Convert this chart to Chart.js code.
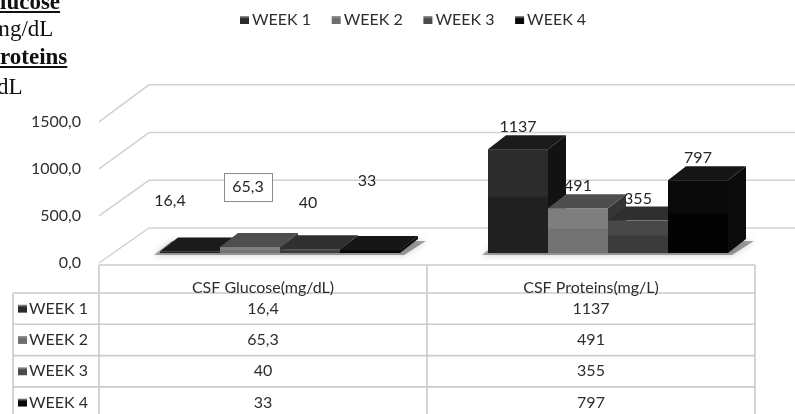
<!DOCTYPE html>
<html>
<head>
<meta charset="utf-8">
<script src="https://cdn.jsdelivr.net/npm/chart.js@4.4.1/dist/chart.umd.min.js"></script>
<style>
  html, body { margin: 0; padding: 0; background: #fff; }
  #wrap { position: relative; width: 795px; height: 414px; overflow: hidden; }
  #chart { position: absolute; left: 0; top: 0; }
  .note { position: absolute; font-family: "Liberation Serif", serif; font-size: 23px; line-height: 28px; color: #111; white-space: nowrap; }
  .note.b { font-weight: bold; text-decoration: underline; }
</style>
</head>
<body>
<div id="wrap">
  <canvas id="chart" width="795" height="414"></canvas>
  <div class="note b" id="n1" style="top:-12px">Glucose</div>
  <div class="note" id="n2" style="top:15px">mg/dL</div>
  <div class="note b" id="n3" style="top:43px">Proteins</div>
  <div class="note" id="n4" style="top:73px">mg/dL</div>
</div>
<script>
// data
const categories = ['CSF Glucose(mg/dL)', 'CSF Proteins(mg/L)'];
const seriesNames = ['WEEK 1', 'WEEK 2', 'WEEK 3', 'WEEK 4'];
const week1 = [16.4, 1137];
const week2 = [65.3, 491];
const week3 = [40, 355];
const week4 = [33, 797];
const yTicks = [0, 500, 1000, 1500];

// colours for each week: front (top/bottom of gradient), top face, side face
const weekColors = [
    { f1: '#2c2c2c', f2: '#202020', top: '#1b1b1b', side: '#121212', key: '#2a2a2a' },
    { f1: '#7e7e7e', f2: '#727272', top: '#4e4e4e', side: '#363636', key: '#6e6e6e' },
    { f1: '#484848', f2: '#3b3b3b', top: '#2f2f2f', side: '#242424', key: '#4a4a4a' },
    { f1: '#0a0a0a', f2: '#030303', top: '#161616', side: '#0c0c0c', key: '#080808' }
];

// cut off notes on the left edge, like the source picture
function textWidth(id, str) {
    const el = document.getElementById(id);
    const c = document.createElement('canvas').getContext('2d');
    const cs = getComputedStyle(el);
    c.font = cs.fontWeight + ' ' + cs.fontSize + ' ' + cs.fontFamily;
    return c.measureText(str).width;
}
document.getElementById('n1').style.left = -textWidth('n1', 'G') + 'px';
document.getElementById('n2').style.left = '-8px';
document.getElementById('n3').style.left = -textWidth('n3', 'P') + 'px';
document.getElementById('n4').style.left = -(textWidth('n4', 'mg/') + 3) + 'px';

const fmtAxis = v => v.toFixed(1).replace('.', ',');
const fmtVal = v => String(v).replace('.', ',');

const FONT = 'Lato, "Liberation Sans", sans-serif';
const DEPTH = { dx: 18, dy: -14 };      // bar depth
const FRONT = { dx: -17, dy: 10 };      // floor front edge vs bar plane
const BACK = { dx: 33, dy: -25 };       // back wall vs bar plane

const threeD = {
    id: 'threeD',
    beforeDatasetsDraw(chart, args, opts) {
        const ctx = chart.ctx;
        const y = chart.scales.y;
        const area = chart.chartArea;
        const base = y.getPixelForValue(0);
        const left = area.left + FRONT.dx;
        const backLeft = area.left + BACK.dx;

        // walls / grid in perspective
        ctx.save();
        ctx.strokeStyle = '#d2d2d2';
        ctx.lineWidth = 1.5;
        yTicks.forEach(v => {
            const py = y.getPixelForValue(v);
            const fy = base + FRONT.dy + (py - base) * 1.03;
            const by = base + BACK.dy + (py - base) * 1.045;
            ctx.beginPath();
            ctx.moveTo(left, fy);
            ctx.lineTo(backLeft, by);
            ctx.lineTo(chart.width, by);
            ctx.stroke();
        });
        ctx.restore();

        // shadows under each group
        const metas = chart.data.datasets.map((d, i) => chart.getDatasetMeta(i));
        categories.forEach((c, ci) => {
            const first = metas[0].data[ci].getProps(['x', 'width'], true);
            const last = metas[metas.length - 1].data[ci].getProps(['x', 'width'], true);
            const x0 = first.x - first.width / 2, x1 = last.x + last.width / 2;
            ctx.save();
            ctx.shadowColor = 'rgba(0,0,0,0.55)';
            ctx.shadowBlur = 7;
            ctx.fillStyle = 'rgba(0,0,0,0.35)';
            ctx.beginPath();
            ctx.moveTo(x0 - 6, base + 2);
            ctx.lineTo(x1 + 4, base + 2);
            ctx.lineTo(x1 + DEPTH.dx + 8, base + DEPTH.dy + 2);
            ctx.lineTo(x0 + DEPTH.dx - 6, base + DEPTH.dy + 2);
            ctx.closePath();
            ctx.fill();
            ctx.restore();
        });

        // bars, left to right so each front hides the previous side
        categories.forEach((c, ci) => {
            metas.forEach((meta, di) => {
                const b = meta.data[ci].getProps(['x', 'y', 'base', 'width'], true);
                const col = weekColors[di];
                const x0 = b.x - b.width / 2, x1 = b.x + b.width / 2;
                const top = Math.min(b.y, b.base - 1.5), bot = b.base;
                ctx.save();
                ctx.fillStyle = col.side;
                ctx.beginPath();
                ctx.moveTo(x1, top); ctx.lineTo(x1 + DEPTH.dx, top + DEPTH.dy);
                ctx.lineTo(x1 + DEPTH.dx, bot + DEPTH.dy); ctx.lineTo(x1, bot);
                ctx.closePath(); ctx.fill();
                ctx.fillStyle = col.top;
                ctx.beginPath();
                ctx.moveTo(x0, top); ctx.lineTo(x0 + DEPTH.dx, top + DEPTH.dy);
                ctx.lineTo(x1 + DEPTH.dx, top + DEPTH.dy); ctx.lineTo(x1, top);
                ctx.closePath(); ctx.fill();
                const g = ctx.createLinearGradient(0, top, 0, bot);
                g.addColorStop(0, col.f1);
                g.addColorStop(0.45, col.f1);
                g.addColorStop(0.47, col.f2);
                g.addColorStop(1, col.f2);
                ctx.fillStyle = g;
                ctx.fillRect(x0, top, x1 - x0, bot - top);
                ctx.restore();
            });
        });
        return false;
    },
    afterDraw(chart, args, opts) {
        const ctx = chart.ctx;
        const x = chart.scales.x;
        const y = chart.scales.y;
        const base = y.getPixelForValue(0);
        const metas = chart.data.datasets.map((d, i) => chart.getDatasetMeta(i));
        ctx.save();

        // y labels on the front edge
        ctx.font = '16px ' + FONT;
        ctx.fillStyle = '#2e2e2e';
        ctx.textAlign = 'right';
        ctx.textBaseline = 'middle';
        yTicks.forEach(v => {
            const py = y.getPixelForValue(v);
            ctx.fillText(fmtAxis(v), 81, base + FRONT.dy + (py - base) * 1.03);
        });

        // data labels
        ctx.font = '16px ' + FONT;
        ctx.textAlign = 'center';
        metas.forEach((meta, di) => {
            meta.data.forEach((el, ci) => {
                const b = el.getProps(['x', 'y', 'base'], true);
                const top = Math.min(b.y, b.base - 1.5);
                const n = (opts.nudge[ci] && opts.nudge[ci][di]) || [0, 0];
                const lx = b.x + n[0], ly = top + DEPTH.dy - 8 + n[1];
                const txt = fmtVal(chart.data.datasets[di].data[ci]);
                if (opts.boxed[ci] === di) {
                    ctx.fillStyle = '#fff';
                    ctx.strokeStyle = '#8a8a8a';
                    ctx.lineWidth = 1;
                    ctx.fillRect(lx - 24, ly - 14, 48, 28);
                    ctx.strokeRect(lx - 24 + 0.5, ly - 14 + 0.5, 48, 28);
                }
                ctx.fillStyle = '#262626';
                ctx.fillText(txt, lx, ly);
            });
        });

        // data table under the plot
        const half = (x.getPixelForValue(1) - x.getPixelForValue(0)) / 2;
        const tLeft = x.getPixelForValue(0) - half + FRONT.dx;
        const tRight = x.getPixelForValue(categories.length - 1) + half + FRONT.dx;
        const tTop = base + 12;
        const headH = 28, rowH = 31.3;
        const keyLeft = 13;
        ctx.strokeStyle = '#cbcbcb';
        ctx.lineWidth = 1.6;
        ctx.beginPath();
        ctx.moveTo(tLeft, tTop); ctx.lineTo(tRight, tTop);
        for (let r = 0; r <= seriesNames.length; r++) {
            const ry = tTop + headH + r * rowH;
            ctx.moveTo(keyLeft, ry); ctx.lineTo(tRight, ry);
        }
        const tBottom = chart.height + 5;
        ctx.moveTo(tLeft, tTop); ctx.lineTo(tLeft, tBottom);
        ctx.moveTo(tRight, tTop); ctx.lineTo(tRight, tBottom);
        ctx.moveTo(keyLeft, tTop + headH); ctx.lineTo(keyLeft, tBottom);
        for (let c = 1; c < categories.length; c++) {
            const cx = x.getPixelForValue(c) - half + FRONT.dx;
            ctx.moveTo(cx, tTop); ctx.lineTo(cx, tBottom);
        }
        ctx.stroke();

        ctx.font = '16px ' + FONT;
        ctx.fillStyle = '#2e2e2e';
        ctx.textAlign = 'center';
        categories.forEach((c, ci) => {
            const cx = x.getPixelForValue(ci) + FRONT.dx;
            ctx.fillText(c, cx, tTop + 23);
            seriesNames.forEach((s, di) => {
                ctx.fillText(fmtVal(chart.data.datasets[di].data[ci]), cx, tTop + headH + di * rowH + rowH / 2);
            });
        });
        ctx.textAlign = 'left';
        seriesNames.forEach((s, di) => {
            const ry = tTop + headH + di * rowH + rowH / 2;
            drawKey(ctx, 18, ry, weekColors[di].key);
            ctx.fillStyle = '#2e2e2e';
            ctx.fillText(s, 29, ry);
        });

        // legend on top
        ctx.font = '16px ' + FONT;
        seriesNames.forEach((s, di) => {
            const lx = 240 + di * 91.7;
            drawKey(ctx, lx, 20, weekColors[di].key);
            ctx.fillStyle = '#2e2e2e';
            ctx.fillText(s, lx + 12, 20);
        });
        ctx.restore();
    }
};

function drawKey(ctx, x0, cy, color) {
    const g = ctx.createLinearGradient(0, cy - 4, 0, cy + 4);
    g.addColorStop(0, '#9a9a9a');
    g.addColorStop(0.35, color);
    g.addColorStop(1, color);
    ctx.fillStyle = g;
    ctx.fillRect(x0, cy - 4, 9, 8);
}

new Chart(document.getElementById('chart'), {
    type: 'bar',
    data: {
        labels: categories,
        datasets: [week1, week2, week3, week4].map((vals, i) => ({
            label: seriesNames[i],
            data: vals,
            backgroundColor: weekColors[i].f1,
            categoryPercentage: 0.7317,
            barPercentage: 1
        }))
    },
    options: {
        responsive: false,
        animation: false,
        events: [],
        layout: { padding: { left: 116, right: 23, top: 116, bottom: 161 } },
        plugins: {
            legend: { display: false },
            tooltip: { enabled: false },
            threeD: {
                // hand-placed labels of the flat glucose bars
                nudge: { 0: [[-20, -29], [-2, -38], [-2, -25], [-3, -47]] },
                boxed: { 0: 1 }
            }
        },
        scales: {
            x: { display: false, offset: true },
            y: { display: false, min: 0, max: 1500 }
        }
    },
    plugins: [threeD]
});
</script>
</body>
</html>
